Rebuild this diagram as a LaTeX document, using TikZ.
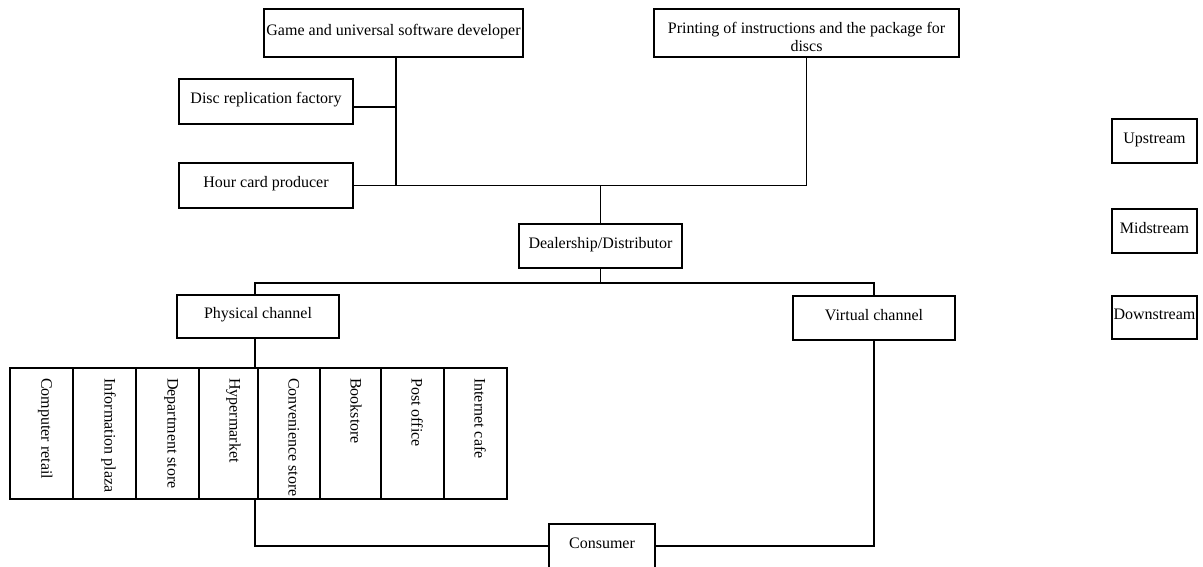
\documentclass[tikz,border=0pt]{standalone}
\usepackage{fontspec}
\setmainfont{Liberation Serif}
\begin{document}
\begin{tikzpicture}[x=1pt,y=-1pt,
  box/.style={draw, line width=1.3pt, inner sep=0pt, text height=10pt, text depth=6pt},
  conn/.style={line width=1.25pt},
  vtext/.style={rotate=-90, anchor=west, inner sep=0pt, text height=10pt, text depth=3pt},
  font=\fontsize{16}{18}\selectfont]
\useasboundingbox (0,0) rectangle (1203,566);
% upstream
\node[box, minimum width=259pt, minimum height=48pt] (game) at (393.5,33) {Game and universal software developer};
\node[box, minimum width=305pt, minimum height=48pt] (print) at (806.5,33) {};
\node[inner sep=0pt, align=center, anchor=north] (printt) at (806.5,22.5) {Printing of instructions and the package for\\discs};
\node[box, minimum width=174pt, minimum height=45pt] (disc) at (266,101.5) {Disc replication factory};
\node[box, minimum width=174pt, minimum height=45pt] (hour) at (266,185.5) {Hour card producer};
% midstream
\node[box, minimum width=163pt, minimum height=44pt] (deal) at (600.5,246) {Dealership/Distributor};
% downstream
\node[box, minimum width=162pt, minimum height=43pt] (phys) at (258,316.5) {Physical channel};
\node[box, minimum width=162pt, minimum height=44pt] (virt) at (874,318) {Virtual channel};
\node[box, minimum width=106pt, minimum height=44pt] (cons) at (602,546) {Consumer};
% stores
\node[box, minimum width=63pt, minimum height=131pt] (s1) at (41.5,433.5) {};
\node[box, minimum width=63pt, minimum height=131pt] (s2) at (104.5,433.5) {};
\node[box, minimum width=63pt, minimum height=131pt] (s3) at (167.5,433.5) {};
\node[box, minimum width=59pt, minimum height=131pt] (s4) at (228.5,433.5) {};
\node[box, minimum width=62pt, minimum height=131pt] (s5) at (289,433.5) {};
\node[box, minimum width=61pt, minimum height=131pt] (s6) at (350.5,433.5) {};
\node[box, minimum width=63pt, minimum height=131pt] (s7) at (412.5,433.5) {};
\node[box, minimum width=63pt, minimum height=131pt] (s8) at (475.5,433.5) {};
\node[vtext] (t1) at (45,378) {Computer retail};
\node[vtext] (t2) at (108,378) {Information plaza};
\node[vtext] (t3) at (171,378) {Department store};
\node[vtext] (t4) at (233,378) {Hypermarket};
\node[vtext] (t5) at (292,378) {Convenience store};
\node[vtext] (t6) at (354,378) {Bookstore};
\node[vtext] (t7) at (415,378) {Post office};
\node[vtext] (t8) at (478,378) {Internet cafe};
% legend
\node[box, minimum width=85pt, minimum height=44pt] (up) at (1154.5,141) {Upstream};
\node[box, minimum width=85pt, minimum height=44pt] (mid) at (1154.5,231) {Midstream};
\node[box, minimum width=85pt, minimum height=43pt] (down) at (1154.5,317.5) {Downstream};
% connectors
\coordinate (jg) at (396,185.5);
\coordinate (dj) at (396,107);
\coordinate (bus) at (600.5,283);
\coordinate (pj) at (255,283);
\draw[conn] (game.south -| jg) -- (jg);
\draw[conn] (disc.east |- dj) -- (dj);
\draw[conn] (hour.east) -- (print.south |- hour.east) -- (print.south);
\draw[conn] (deal.north) -- (deal.north |- hour.east);
\draw[conn] (deal.south) -- (bus);
\draw[conn] (phys.north -| pj) -- (pj) -- (virt.north |- bus) -- (virt.north);
\draw[conn] (phys.south -| pj) -- (pj |- s4.north);
\draw[conn] (pj |- s4.south) -- (pj |- cons.west) -- (cons.west);
\draw[conn] (cons.east) -- (virt.south |- cons.east) -- (virt.south);
\end{tikzpicture}
\end{document}
